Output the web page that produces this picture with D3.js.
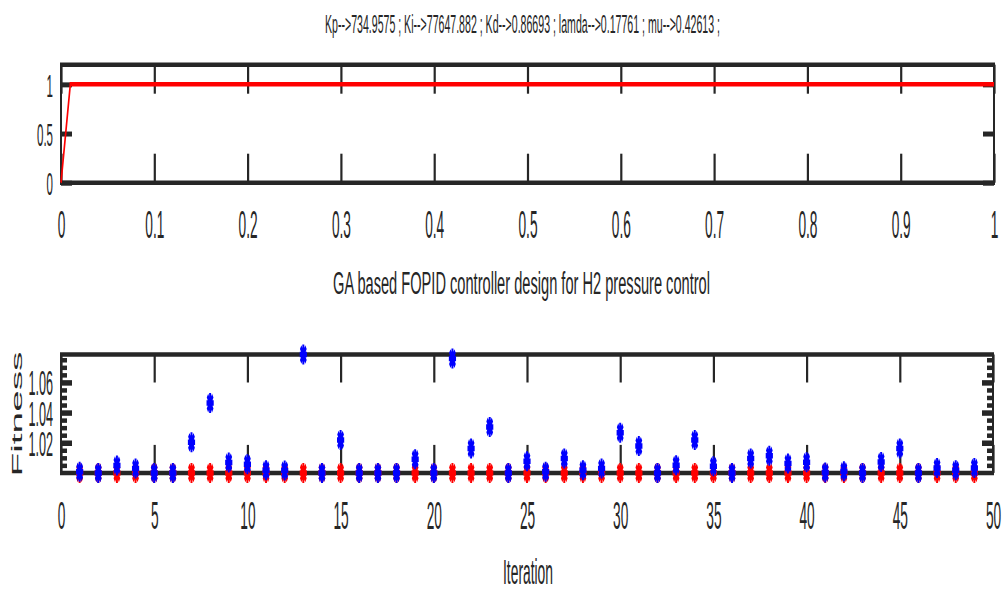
<!DOCTYPE html>
<html><head><meta charset="utf-8">
<script src="https://cdn.jsdelivr.net/npm/d3@7"></script>
<style>
body{margin:0;background:#fff}
svg{display:block}
text{font-family:"Liberation Sans",Arial,Helvetica,sans-serif;fill:#262626}
</style>
</head><body>
<svg id="chart" width="1005" height="595"></svg>
<script>
// ---------------- data ----------------
const titleText = "Kp-->734.9575 ; Ki-->77647.882 ; Kd-->0.86693 ; lamda-->0.17761 ; mu-->0.42613 ;";
const subtitleText = "GA based FOPID controller design for H2 pressure control";
const xLabelBottom = "Iteration";
const yLabelBottom = "Fitness";

const stepTime  = [0, 0.01, 1];
const stepValue = [0, 1, 1];
const topXTicks = [0, 0.1, 0.2, 0.3, 0.4, 0.5, 0.6, 0.7, 0.8, 0.9, 1];
const topXTickLabels = ["0","0.1","0.2","0.3","0.4","0.5","0.6","0.7","0.8","0.9","1"];
const topYTicks = [0, 0.5, 1];
const topYTickLabels = ["0","0.5","1"];

const iterations = [1,2,3,4,5,6,7,8,9,10,11,12,13,14,15,16,17,18,19,20,21,22,23,24,25,
  26,27,28,29,30,31,32,33,34,35,36,37,38,39,40,41,42,43,44,45,46,47,48,49];
const bestFitness = [1,1,1,1,1,1,1,1,1,1,1,1,1,1,1,1,1,1,1,1,1,1,1,1,1,
  1,1,1,1,1,1,1,1,1,1,1,1,1,1,1,1,1,1,1,1,1,1,1,1];
const meanFitness = [1.0007,1.0,1.0049,1.0029,1.0,1.0,1.0203,1.0463,1.0069,1.0058,
  1.0018,1.0016,1.0785,1.0,1.0218,1.0,1.0,1.0,1.0091,1.0,
  1.0758,1.0162,1.0305,1.0,1.0077,1.0008,1.0096,1.0018,1.0029,1.0267,
  1.0178,1.0,1.0051,1.0218,1.0044,1.0,1.0096,1.0113,1.0062,1.0071,
  1.0003,1.0011,1.0,1.0073,1.0162,1.0,1.0033,1.0018,1.0033];
const iterXTicks = [0,5,10,15,20,25,30,35,40,45,50];
const fitYTicks = [1.02, 1.04, 1.06];
const fitYTickLabels = ["1.02","1.04","1.06"];
const fitYMinorTicks = [1.005,1.01,1.015,1.025,1.03,1.035,1.045,1.05,1.055,1.065,1.07,1.075];

// ---------------- layout ----------------
const SX = 0.36;           // horizontal squeeze of the original figure
const INK = "#262626";
const FONT = '"Liberation Sans",Arial,sans-serif';
const svg = d3.select("#chart");
const L = 61, R = 994;

function txt(x, y, str, size, anchor, len, rot) {
  const t = svg.append("text")
    .attr("transform", `translate(${x},${y}) scale(${SX},1)` + (rot ? ` rotate(${rot})` : ""))
    .attr("font-size", size)
    .attr("text-anchor", anchor)
    .text(str);
  if (len) t.attr("textLength", rot ? len : len / SX).attr("lengthAdjust", "spacingAndGlyphs");
  return t;
}

function styleAxis(g, w) {
  g.select(".domain").remove();
  g.attr("fill", null);
  g.selectAll(".tick line").attr("stroke", INK).attr("stroke-width", w);
}
function styleLabels(g, dx, dy, size) {
  g.selectAll(".tick text").attr("x", null).attr("y", null).attr("dy", null)
    .attr("transform", `translate(${dx},${dy}) scale(${SX},1)`)
    .attr("font-size", size).attr("fill", INK).style("font-family", FONT);
}

// ---------------- top panel ----------------
const xTop = d3.scaleLinear().domain([0, 1]).range([L, R]);
const yTop = d3.scaleLinear().domain([0, 1.2]).range([182.7, 64.7]);

const gTopXB = svg.append("g").attr("transform", `translate(0,${yTop(0)})`)
  .call(d3.axisBottom(xTop).tickValues(topXTicks).tickSize(-29)
    .tickFormat((d, i) => topXTickLabels[i]));
styleAxis(gTopXB, 2.2);
styleLabels(gTopXB, 0, 55, 38);

const gTopXT = svg.append("g").attr("transform", `translate(0,${yTop(1.2)})`)
  .call(d3.axisTop(xTop).tickValues(topXTicks).tickSize(-29).tickFormat(""));
styleAxis(gTopXT, 2.2);

const gTopYL = svg.append("g").attr("transform", `translate(${L},0)`)
  .call(d3.axisLeft(yTop).tickValues(topYTicks).tickSize(-11).tickFormat((d, i) => topYTickLabels[i]));
styleAxis(gTopYL, 5);
styleLabels(gTopYL, -8, 12, 32);
const gTopYR = svg.append("g").attr("transform", `translate(${R},0)`)
  .call(d3.axisRight(yTop).tickValues(topYTicks).tickSize(-11).tickFormat(""));
styleAxis(gTopYR, 5);

function box(x0, x1, y0, y1) {
  svg.append("line").attr("x1", x0 - 1).attr("x2", x1 + 1).attr("y1", y0).attr("y2", y0).attr("stroke", INK).attr("stroke-width", 4.5);
  svg.append("line").attr("x1", x0 - 1).attr("x2", x1 + 1).attr("y1", y1).attr("y2", y1).attr("stroke", INK).attr("stroke-width", 4.5);
  svg.append("line").attr("x1", x0).attr("x2", x0).attr("y1", y0).attr("y2", y1).attr("stroke", INK).attr("stroke-width", 2);
  svg.append("line").attr("x1", x1).attr("x2", x1).attr("y1", y0).attr("y2", y1).attr("stroke", INK).attr("stroke-width", 2);
}
box(L, R, yTop(1.2), yTop(0));

const xTopC = d3.scaleLinear().domain([0, 1]).range([L / SX, R / SX]);
svg.append("g").attr("transform", `scale(${SX},1)`)
  .append("path")
  .datum(stepTime.map((t, i) => [t, stepValue[i]]))
  .attr("d", d3.line().x(d => xTopC(d[0])).y(d => yTop(d[1])))
  .attr("fill", "none").attr("stroke", "#ff0000").attr("stroke-width", 4.5)
  .attr("stroke-linejoin", "miter");

txt(522.5, 33, titleText, 26, "middle", 395);
txt(521.5, 294, subtitleText, 31, "middle", 377);

// ---------------- bottom panel ----------------
const xBot = d3.scaleLinear().domain([0, 50]).range([L, 993]);
const yBot = d3.scaleLinear().domain([1, 1.0785]).range([472.9, 354.5]);

const gBXB = svg.append("g").attr("transform", `translate(0,${yBot(1)})`)
  .call(d3.axisBottom(xBot).tickValues(iterXTicks).tickSize(-28).tickFormat(d3.format("d")));
styleAxis(gBXB, 2.2);
styleLabels(gBXB, 0, 56, 38);
const gBXT = svg.append("g").attr("transform", `translate(0,${yBot(1.0785)})`)
  .call(d3.axisTop(xBot).tickValues(iterXTicks).tickSize(-28).tickFormat(""));
styleAxis(gBXT, 2.2);

const gBYL = svg.append("g").attr("transform", `translate(${L},0)`)
  .call(d3.axisLeft(yBot).tickValues(fitYTicks).tickSize(-11).tickFormat((d, i) => fitYTickLabels[i]));
styleAxis(gBYL, 5.5);
styleLabels(gBYL, -8, 12.5, 35);
const gBYLm = svg.append("g").attr("transform", `translate(${L},0)`)
  .call(d3.axisLeft(yBot).tickValues(fitYMinorTicks).tickSize(-6).tickFormat(""));
styleAxis(gBYLm, 4.5);
const gBYR = svg.append("g").attr("transform", `translate(993,0)`)
  .call(d3.axisRight(yBot).tickValues(fitYTicks).tickSize(-11).tickFormat(""));
styleAxis(gBYR, 5.5);
const gBYRm = svg.append("g").attr("transform", `translate(993,0)`)
  .call(d3.axisRight(yBot).tickValues(fitYMinorTicks).tickSize(-6).tickFormat(""));
styleAxis(gBYRm, 4.5);

box(L, 993, yBot(1.0785), yBot(1));

txt(528, 584, xLabelBottom, 35, "middle", 50);
txt(22, 414, yLabelBottom, 40, "middle", 125, -90);

// markers (MATLAB '*' with thick lines, squeezed horizontally)
const star = "M0,-10V10M-10,0H10M-7.4,-7.4L7.4,7.4M-7.4,7.4L7.4,-7.4";
function markers(vals, color) {
  const g = svg.append("g");
  const m = g.selectAll("g").data(iterations.map((it, i) => [it, vals[i]])).join("g")
    .attr("transform", d => `translate(${xBot(d[0])},${yBot(d[1])}) scale(${SX},1)`);
  m.append("circle").attr("r", 6).attr("fill", color);
  m.append("path").attr("d", star).attr("fill", "none").attr("stroke", color).attr("stroke-width", 5.5);
}
markers(bestFitness, "#ff0000");
markers(meanFitness, "#0000ff");
</script>
</body></html>
